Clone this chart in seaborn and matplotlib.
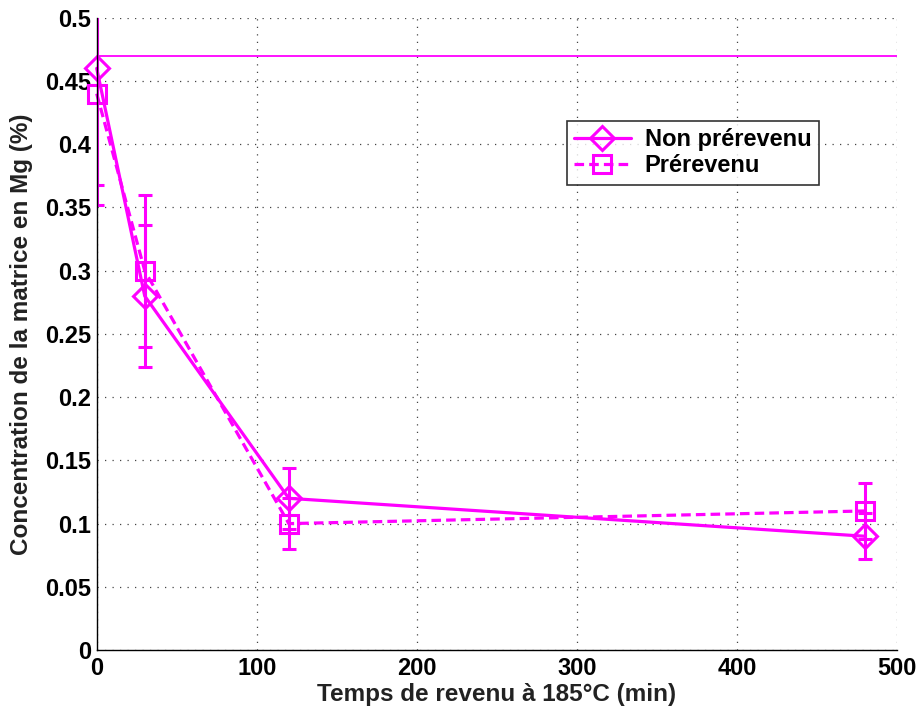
import numpy as np
import pandas as pd
import seaborn as sns
import matplotlib.pyplot as plt

TEMPS = [0, 30, 120, 480]
NON_PREREVENU = [0.46, 0.28, 0.12, 0.09]
NON_PREREVENU_ERR = [0.108, 0.056, 0.024, 0.018]
PREREVENU = [0.44, 0.30, 0.10, 0.11]
PREREVENU_ERR = [0.072, 0.06, 0.02, 0.022]
LIMITE = 0.47

MAGENTA = "#ff00ff"


def main():
    sns.set_style("white")
    plt.rcParams["font.family"] = ["Liberation Sans", "DejaVu Sans"]
    plt.rcParams["font.weight"] = "bold"
    plt.rcParams["text.color"] = "black"
    plt.rcParams["xtick.color"] = "black"
    plt.rcParams["ytick.color"] = "black"

    df = pd.DataFrame({
        "temps": TEMPS * 2,
        "conc": NON_PREREVENU + PREREVENU,
        "serie": ["Non prérevenu"] * 4 + ["Prérevenu"] * 4,
    })

    fig, ax = plt.subplots(figsize=(9.21, 7.12), dpi=100)
    fig.subplots_adjust(left=0.105, right=0.974, top=0.975, bottom=0.087)

    ax.axhline(LIMITE, color=MAGENTA, lw=1.3, zorder=1)

    for y, err in [(NON_PREREVENU, NON_PREREVENU_ERR), (PREREVENU, PREREVENU_ERR)]:
        ax.errorbar(TEMPS, y, yerr=err, fmt="none", ecolor=MAGENTA,
                    elinewidth=2.2, capsize=5, capthick=2.2)

    sns.lineplot(data=df, x="temps", y="conc", style="serie",
                 markers={"Non prérevenu": "D", "Prérevenu": "s"},
                 dashes={"Non prérevenu": "", "Prérevenu": (3, 1.6)},
                 color=MAGENTA, lw=2.3, markersize=13, mfc="none",
                 mec=MAGENTA, mew=2.2, ax=ax, legend=False)
    lines = ax.get_lines()[-2:]
    lines[0].set_markersize(12.5)
    for ln in lines:
        ln.set_clip_on(False)

    ax.set_xlim(0, 500)
    ax.set_ylim(0, 0.5)
    ax.set_xticks(np.arange(0, 501, 100))
    ax.set_yticks(np.arange(0, 0.501, 0.05))
    ax.set_yticklabels(["0", "0.05", "0.1", "0.15", "0.2", "0.25", "0.3",
                        "0.35", "0.4", "0.45", "0.5"])
    ax.tick_params(direction="in", labelsize=17, length=7, width=1)
    ax.tick_params(axis="x", pad=5)
    ax.tick_params(axis="y", pad=4)
    for lab in ax.get_xticklabels() + ax.get_yticklabels():
        lab.set_fontweight("bold")
    ax.grid(True, linestyle=(0, (1, 5)), color="#444444", lw=0.9)
    for s in ["top", "right"]:
        ax.spines[s].set_visible(False)
    for s in ["left", "bottom"]:
        ax.spines[s].set_color("black")
        ax.spines[s].set_linewidth(1)

    ax.set_xlabel("Temps de revenu à 185°C (min)", fontsize=17.5,
                  fontweight="bold", labelpad=2, color="#222222")
    ax.set_ylabel("Concentration de la matrice en Mg (%)", fontsize=17.5,
                  fontweight="bold", labelpad=9, color="#222222")

    leg = ax.legend(lines, ["Non prérevenu", "Prérevenu"],
                    loc="upper left", bbox_to_anchor=(0.5875, 0.837),
                    borderaxespad=0, fontsize=17, frameon=True,
                    fancybox=False, edgecolor="black", handlelength=2.4,
                    borderpad=0.3, labelspacing=0.15, handletextpad=0.6)
    leg.get_frame().set_linewidth(1.2)
    for t in leg.get_texts():
        t.set_fontweight("bold")
        t.set_color("black")

    fig.savefig("out.png", dpi=100)


if __name__ == "__main__":
    main()
